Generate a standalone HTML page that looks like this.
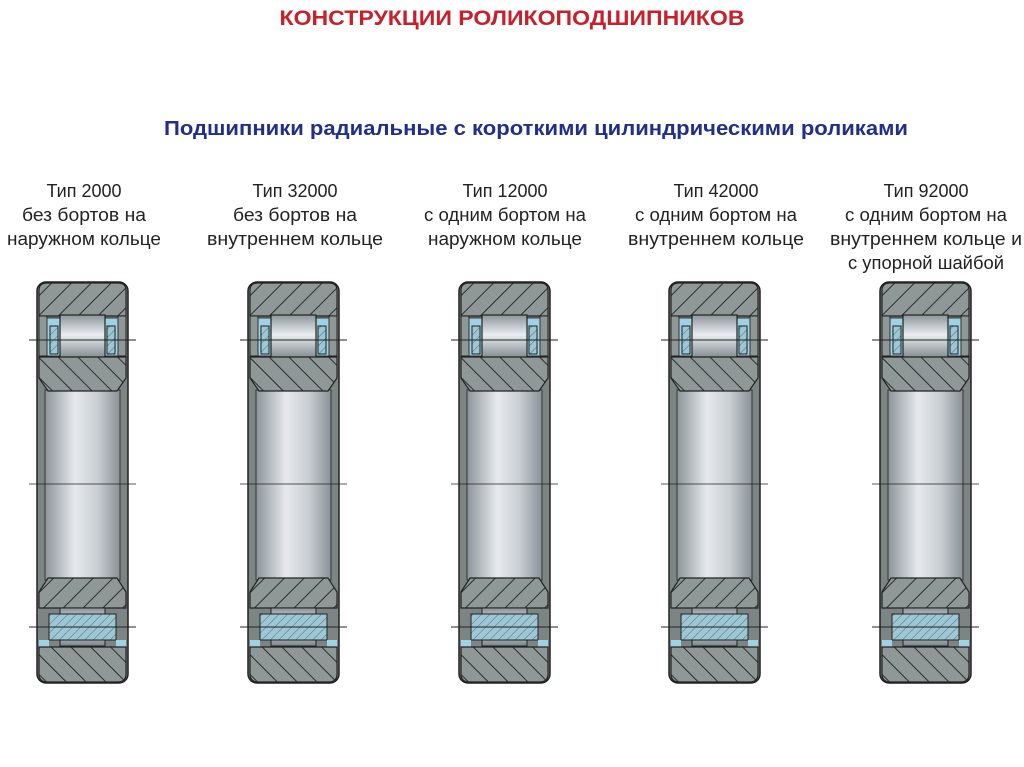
<!DOCTYPE html>
<html><head><meta charset="utf-8"><style>
html,body{margin:0;padding:0;background:#fff;width:1024px;height:767px;overflow:hidden}
</style></head><body>
<svg width="1024" height="767" viewBox="0 0 1024 767" xmlns="http://www.w3.org/2000/svg" font-family="'Liberation Sans','Noto Sans CJK SC',sans-serif">
<defs>
<pattern id="h" width="14" height="14" patternUnits="userSpaceOnUse" patternTransform="rotate(45)">
<rect width="14" height="14" fill="#8f9896"/><line x1="0" y1="0" x2="0" y2="14" stroke="#2a2e2e" stroke-width="2"/></pattern>
<pattern id="h2" width="14" height="14" patternUnits="userSpaceOnUse" patternTransform="rotate(-45)">
<rect width="14" height="14" fill="#8f9896"/><line x1="0" y1="0" x2="0" y2="14" stroke="#2a2e2e" stroke-width="2"/></pattern>
<pattern id="hb" width="6" height="6" patternUnits="userSpaceOnUse" patternTransform="rotate(45)">
<rect width="6" height="6" fill="#9fc6d4"/><line x1="0" y1="0" x2="0" y2="6" stroke="#3f6f80" stroke-width="1"/></pattern>
<linearGradient id="bore" x1="0" x2="1" y1="0" y2="0">
<stop offset="0" stop-color="#8d959a"/><stop offset="0.4" stop-color="#e6eaee"/><stop offset="0.7" stop-color="#c9ced3"/><stop offset="1" stop-color="#8a9297"/></linearGradient>
<linearGradient id="rol" x1="0" x2="0" y1="0" y2="1">
<stop offset="0" stop-color="#8d959a"/><stop offset="0.45" stop-color="#e9edf0"/><stop offset="1" stop-color="#7f878c"/></linearGradient>
<g id="b">
<rect x="0" y="282" width="91" height="401" rx="9" fill="#7d8584" stroke="#222" stroke-width="1.5"/>
<rect x="8" y="390" width="75" height="190" fill="url(#bore)" stroke="#333" stroke-width="1"/>
<path d="M2 290 Q2 283 10 283 L81 283 Q89 283 89 290 L89 316 L2 316 Z" fill="url(#h)" stroke="#222" stroke-width="1.2"/>
<rect x="2" y="316" width="8" height="40" fill="#8f9896" stroke="#222"/>
<rect x="81" y="316" width="8" height="40" fill="#8f9896" stroke="#222"/>
<rect x="10" y="318" width="13" height="38" fill="#9fd2e4" stroke="#333"/>
<rect x="68" y="318" width="13" height="38" fill="#9fd2e4" stroke="#333"/>
<rect x="13" y="326" width="8" height="28" fill="url(#hb)" stroke="#222"/>
<rect x="70" y="326" width="8" height="28" fill="url(#hb)" stroke="#222"/>
<rect x="23" y="315" width="45" height="44" fill="url(#rol)" stroke="#222" stroke-width="1.2"/>
<path d="M2 357 L89 357 L89 378 L80 391 L11 391 L2 378 Z" fill="url(#h2)" stroke="#222" stroke-width="1.2"/>
<path d="M2 592 L11 578 L80 578 L89 592 L89 608 L2 608 Z" fill="url(#h)" stroke="#222" stroke-width="1.2"/>
<rect x="23" y="608" width="45" height="38" fill="url(#rol)" stroke="#222"/>
<rect x="12" y="614" width="67" height="26" fill="url(#hb)" stroke="#222"/>
<rect x="2" y="640" width="10" height="8" fill="#9fd2e4"/>
<rect x="79" y="640" width="10" height="8" fill="#9fd2e4"/>
<path d="M2 647 L89 647 L89 674 Q89 682 81 682 L10 682 Q2 682 2 674 Z" fill="url(#h2)" stroke="#222" stroke-width="1.2"/>
<line x1="-8" y1="340" x2="99" y2="340" stroke="#222" stroke-width="1"/>
<line x1="-8" y1="484" x2="99" y2="484" stroke="#222" stroke-width="0.8"/>
<line x1="-8" y1="627" x2="99" y2="627" stroke="#222" stroke-width="1"/>
</g>
</defs>
<text x="512" y="25" text-anchor="middle" font-size="21" font-weight="bold" fill="#c8202a" textLength="465" lengthAdjust="spacingAndGlyphs">КОНСТРУКЦИИ  РОЛИКОПОДШИПНИКОВ</text>
<text x="536" y="135" text-anchor="middle" font-size="20" font-weight="bold" fill="#1f2f8a" textLength="744" lengthAdjust="spacingAndGlyphs">Подшипники радиальные с короткими цилиндрическими роликами</text>
<g font-size="18" fill="#222" text-anchor="middle">
<text x="84" y="197">Тип 2000</text><text x="84" y="221" textLength="124" lengthAdjust="spacingAndGlyphs">без бортов на</text><text x="84" y="245" textLength="154" lengthAdjust="spacingAndGlyphs">наружном кольце</text>
<text x="295" y="197">Тип 32000</text><text x="295" y="221" textLength="124" lengthAdjust="spacingAndGlyphs">без бортов на</text><text x="295" y="245" textLength="176" lengthAdjust="spacingAndGlyphs">внутреннем  кольце</text>
<text x="505" y="197">Тип 12000</text><text x="505" y="221" textLength="162" lengthAdjust="spacingAndGlyphs">с одним бортом на</text><text x="505" y="245" textLength="154" lengthAdjust="spacingAndGlyphs">наружном кольце</text>
<text x="716" y="197">Тип 42000</text><text x="716" y="221" textLength="162" lengthAdjust="spacingAndGlyphs">с одним бортом на</text><text x="716" y="245" textLength="176" lengthAdjust="spacingAndGlyphs">внутреннем  кольце</text>
<text x="926" y="197">Тип 92000</text><text x="926" y="221" textLength="162" lengthAdjust="spacingAndGlyphs">с одним бортом на</text><text x="926" y="245" textLength="192" lengthAdjust="spacingAndGlyphs">внутреннем  кольце и</text><text x="926" y="269" textLength="156" lengthAdjust="spacingAndGlyphs">с упорной шайбой</text>
</g>
<use href="#b" x="37" y="0"/>
<use href="#b" x="248" y="0"/>
<use href="#b" x="459" y="0"/>
<use href="#b" x="669" y="0"/>
<use href="#b" x="880" y="0"/>
</svg>
</body></html>
